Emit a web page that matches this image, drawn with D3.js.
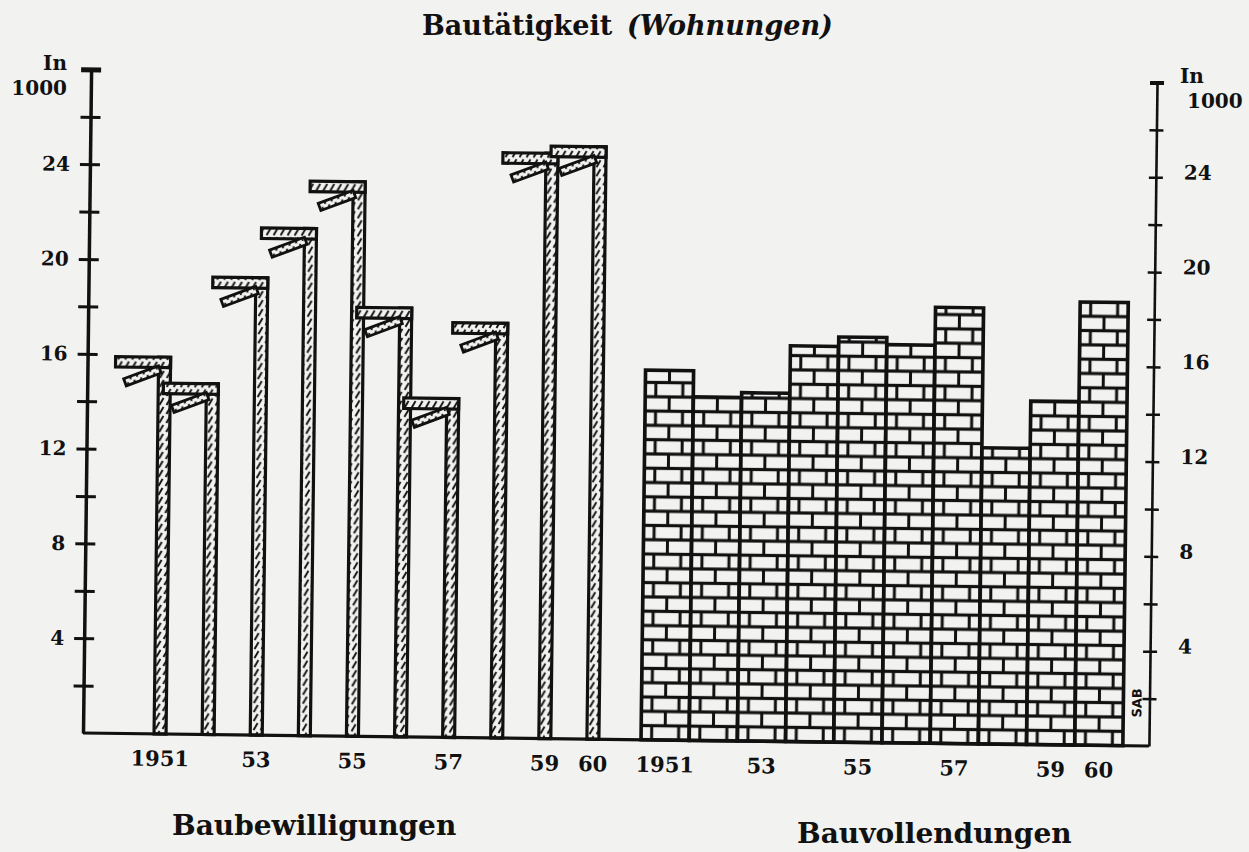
<!DOCTYPE html>
<html>
<head>
<meta charset="utf-8">
<script src="https://cdn.jsdelivr.net/npm/d3@7"></script>
<style>
  body { margin: 0; background: #f2f2f0; }
  text { font-family: "DejaVu Serif", serif; font-weight: bold; fill: #111; }
</style>
</head>
<body>
<svg id="chart" width="1249" height="852"></svg>
<script>
// Wohnungen in 1000
const years = [1951, 1952, 1953, 1954, 1955, 1956, 1957, 1958, 1959, 1960];
const permits = [15.9, 14.8, 19.3, 21.4, 23.4, 18.1, 14.3, 17.5, 24.7, 25.0];      // Baubewilligungen
const completions = [15.6, 14.5, 14.7, 16.7, 17.1, 16.8, 18.4, 12.5, 14.5, 18.7];  // Bauvollendungen
const yTicks = d3.range(0, 29, 2);
const yearLabels = {1951: "1951", 1953: "53", 1955: "55", 1957: "57", 1959: "59", 1960: "60"};

const ink = "#111";
const base = 733;

const svg = d3.select("#chart");
const defs = svg.append("defs");

// hatch for the crane columns
let hatch = defs.append("pattern")
    .attr("id", "hatch")
    .attr("patternUnits", "userSpaceOnUse")
    .attr("width", 7).attr("height", 9);
hatch.append("rect").attr("width", 7).attr("height", 9).attr("fill", "#f2f2f0");
hatch.append("path").attr("d", "M1.5,8 L5.5,1").attr("stroke", ink).attr("stroke-width", 1.9);

let y = d3.scaleLinear().domain([0, 28]).range([base, base - 28 * 23.7]);
let xL = d3.scaleBand().domain(years).range([136, 617]);
let xR = d3.scaleBand().domain(years).range([641, 1123]);

// bricks, one tile = two courses, aligned to the bar edges and baseline
let W = xR.step(), rowH = 14.3, half = W * 0.22;
let bricks = defs.append("pattern")
    .attr("id", "bricks")
    .attr("patternUnits", "userSpaceOnUse")
    .attr("x", xR.range()[0]).attr("y", base)
    .attr("width", W).attr("height", rowH * 2);
bricks.append("rect").attr("width", W).attr("height", rowH * 2).attr("fill", ink);
let courses = [
    [[1.5, W / 2 - 3], [W / 2 + 1.5, W / 2 - 3]],
    [[1.5, half - 3], [half + 1.5, W - 2 * half - 3], [W - half + 1.5, half - 3]]
];
courses.forEach((row, r) => {
    row.forEach(b => {
        bricks.append("rect")
            .attr("x", b[0]).attr("y", r * rowH + 1.6)
            .attr("width", b[1]).attr("height", rowH - 3.2)
            .attr("fill", "#f2f2f0");
    });
});

// the scan is tilted slightly
let g = svg.append("g").attr("transform", "rotate(0.7,83," + base + ")");

// Baubewilligungen: crane-like columns
let cranes = g.selectAll(".crane")
    .data(years.map((d, i) => ({year: d, v: permits[i]})))
    .enter().append("g")
    .attr("class", "crane");

cranes.append("rect")
    .attr("x", d => xL(d.year) + xL.step() / 2 - 6)
    .attr("y", d => y(d.v))
    .attr("width", 12)
    .attr("height", d => base - y(d.v))
    .attr("fill", "url(#hatch)")
    .attr("stroke", ink).attr("stroke-width", 3.2);

cranes.append("rect")
    .attr("x", d => xL(d.year) + xL.step() / 2 + 6 - 55)
    .attr("y", d => y(d.v))
    .attr("width", 55).attr("height", 10.5)
    .attr("fill", "url(#hatch)")
    .attr("stroke", ink).attr("stroke-width", 3.2);

cranes.append("rect")
    .attr("transform", d => {
        let R = xL(d.year) + xL.step() / 2 + 6, T = y(d.v);
        return "translate(" + (R - 28) + "," + (T + 19) + ") rotate(-21)";
    })
    .attr("x", -18.6).attr("y", -3.8)
    .attr("width", 37.2).attr("height", 7.6)
    .attr("fill", "url(#hatch)")
    .attr("stroke", ink).attr("stroke-width", 2.8);

// Bauvollendungen: brick bars
g.selectAll(".brick")
    .data(years.map((d, i) => ({year: d, v: completions[i]})))
    .enter().append("rect")
    .attr("class", "brick")
    .attr("x", d => xR(d.year))
    .attr("y", d => y(d.v))
    .attr("width", xR.bandwidth())
    .attr("height", d => base - y(d.v))
    .attr("fill", "url(#bricks)")
    .attr("stroke", ink).attr("stroke-width", 3.5);

// baseline
g.append("line")
    .attr("x1", 83).attr("x2", 1149)
    .attr("y1", base).attr("y2", base)
    .attr("stroke", ink).attr("stroke-width", 3.2);

// left axis
let axL = d3.axisLeft(y).tickValues(yTicks).tickSize(10).tickSizeOuter(0).tickPadding(10)
    .tickFormat(d => (d % 4 === 0 && d > 0 && d < 28) ? d : "");
let gL = g.append("g").attr("transform", "translate(83,0)").call(axL)
    .attr("font-family", null).attr("font-size", 20);
gL.select(".domain").attr("stroke", ink).attr("stroke-width", 3.5);
gL.selectAll(".tick line").attr("x1", 10).attr("stroke", ink)
    .attr("stroke-width", d => d === 28 ? 5 : 3);
gL.selectAll(".tick line").filter(d => d === 0).remove();

// right axis
let axR = d3.axisRight(y).tickValues(yTicks).tickSize(7).tickSizeOuter(0).tickPadding(21)
    .tickFormat(d => (d % 4 === 0 && d > 0 && d < 28) ? d : "");
let gR = g.append("g").attr("transform", "translate(1149,0)").call(axR)
    .attr("font-family", null).attr("font-size", 20);
gR.select(".domain").attr("stroke", ink).attr("stroke-width", 2.6);
gR.selectAll(".tick line").attr("x1", -7).attr("stroke", ink)
    .attr("stroke-width", d => d === 28 ? 4 : 2.5);
gR.selectAll(".tick line").filter(d => d === 0).remove();
gR.selectAll(".tick text").attr("y", -5);

// year labels
[xL, xR].forEach(sc => {
    let ax = d3.axisBottom(sc).tickSize(0).tickPadding(17).tickFormat(d => yearLabels[d] || "");
    let gx = g.append("g").attr("transform", "translate(0," + base + ")").call(ax)
        .attr("font-family", null).attr("font-size", 21);
    gx.select(".domain").remove();
});

// signature
g.append("text")
    .attr("transform", "translate(1141,690) rotate(-90)")
    .attr("text-anchor", "middle")
    .style("font-family", "DejaVu Sans")
    .style("font-size", "13px")
    .text("SAB");

// unit labels
svg.append("text").attr("x", 67).attr("y", 70).attr("text-anchor", "end").style("font-size", "20px").text("In");
svg.append("text").attr("x", 67).attr("y", 95).attr("text-anchor", "end").style("font-size", "20px").text("1000");
svg.append("text").attr("x", 1180).attr("y", 83).style("font-size", "20px").text("In");
svg.append("text").attr("x", 1187).attr("y", 108).style("font-size", "20px").text("1000");

// titles
svg.append("text").attr("x", 422).attr("y", 35).style("font-size", "27px").text("Bautätigkeit");
svg.append("text").attr("x", 627).attr("y", 35).style("font-size", "27px").style("font-style", "italic").text("(Wohnungen)");
svg.append("text").attr("x", 172).attr("y", 835).style("font-size", "28px").text("Baubewilligungen");
svg.append("text").attr("x", 797).attr("y", 843).style("font-size", "28px").text("Bauvollendungen");
</script>
</body>
</html>
